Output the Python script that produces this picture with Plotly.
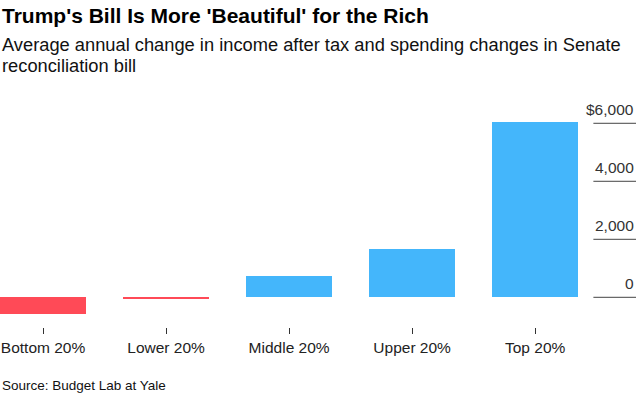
import plotly.graph_objects as go

categories = ["Bottom 20%", "Lower 20%", "Middle 20%", "Upper 20%", "Top 20%"]
values = [-580, -25, 745, 1655, 6050]
tick_values = [0, 2000, 4000, 6000]
tick_labels = ["0", "2,000", "4,000", "$6,000"]

TITLE = "Trump's Bill Is More 'Beautiful' for the Rich"
SUBTITLE_LINES = ["Average annual change in income after tax and spending changes in Senate",
                  "reconciliation bill"]
SOURCE = "Source: Budget Lab at Yale"

RED = "#ff4a57"
BLUE = "#44b6fb"
FONT = "Liberation Sans"

colors = [RED if v < 0 else BLUE for v in values]

fig = go.Figure()
fig.add_trace(go.Bar(
    x=list(range(len(categories))), y=values,
    marker=dict(color=colors, line=dict(width=0)),
    width=0.7, hoverinfo="skip",
))

# short gridlines at right, labels above them
for tv, tl in zip(tick_values, tick_labels):
    fig.add_shape(type="line", xref="paper", yref="y", x0=0.933, x1=1.0, y0=tv, y1=tv,
                  line=dict(color="#444444", width=1))
    fig.add_annotation(xref="paper", yref="y", x=1.0, y=tv, text=tl, showarrow=False,
                       xanchor="right", yanchor="bottom", yshift=3,
                       font=dict(family=FONT, size=15.5, color="#333333"))

text_annots = [
    dict(xref="paper", yref="paper", x=0, xanchor="left", y=1, yanchor="middle",
         yshift=85, text="<b>" + TITLE + "</b>",
         showarrow=False, font=dict(family=FONT, size=21, color="#000000")),
    dict(xref="paper", yref="paper", x=0, xanchor="left", y=1, yanchor="middle",
         yshift=56, text=SUBTITLE_LINES[0],
         showarrow=False, font=dict(family=FONT, size=18.3, color="#111111")),
    dict(xref="paper", yref="paper", x=0, xanchor="left", y=1, yanchor="middle",
         yshift=35, text=SUBTITLE_LINES[1],
         showarrow=False, font=dict(family=FONT, size=18.3, color="#111111")),
    dict(xref="paper", yref="paper", x=0, xanchor="left", y=0, yanchor="middle",
         yshift=-58, text=SOURCE,
         showarrow=False, font=dict(family=FONT, size=13.5, color="#111111")),
]

fig.update_layout(
    width=640, height=395,
    margin=dict(l=0, r=4, t=100, b=68),
    paper_bgcolor="white", plot_bgcolor="white",
    showlegend=False, bargap=0,
    xaxis=dict(
        range=[-0.35, 4.82], tickmode="array",
        tickvals=list(range(len(categories))), ticktext=categories,
        ticks="outside", ticklen=6, tickcolor="#333333", tickwidth=1,
        showline=False, showgrid=False, zeroline=False,
        tickfont=dict(family=FONT, size=15.5, color="#222222"),
    ),
    yaxis=dict(range=[-1024, 6803], showticklabels=False, showgrid=False,
               zeroline=False, showline=False),
    annotations=list(fig.layout.annotations) + text_annots,
)

fig.write_html("out.html", config={"displayModeBar": False},
               post_script="document.body.style.margin='0';document.body.style.overflow='hidden';")
